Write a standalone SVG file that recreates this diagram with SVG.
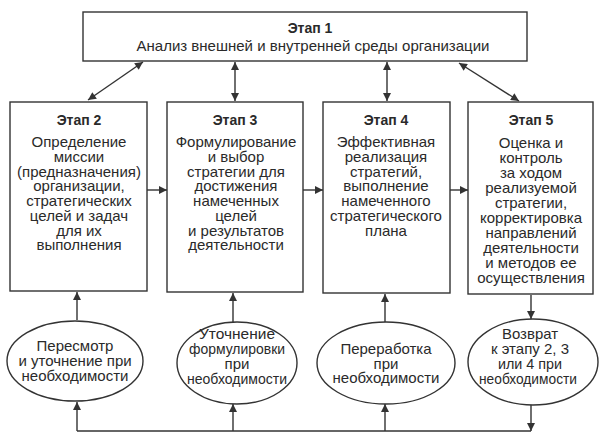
<svg xmlns="http://www.w3.org/2000/svg" width="605" height="439" viewBox="0 0 605 439">
<style>
.box{fill:#fff;stroke:#333;stroke-width:1.4}
.t{font-family:"Liberation Sans",Arial,sans-serif;font-size:15px;fill:#2a2a2a;text-anchor:middle}
.h{font-family:"Liberation Sans",Arial,sans-serif;font-size:14px;font-weight:bold;fill:#2a2a2a;text-anchor:middle}
.e{font-family:"Liberation Sans",Arial,sans-serif;font-size:15px;fill:#2a2a2a;text-anchor:middle}
.c{stroke:#333;stroke-width:1.4;fill:none}
</style>
<defs>
<marker id="ah" viewBox="0 0 10 10" refX="10" refY="5" markerWidth="9" markerHeight="8" markerUnits="userSpaceOnUse" orient="auto-start-reverse">
<path d="M0,0 L10,5 L0,10 z" fill="#333"/>
</marker>
</defs>
<rect width="605" height="439" fill="#fff"/>

<g id="connectors">
<line class="c" x1="143" y1="62" x2="88" y2="100" marker-start="url(#ah)" marker-end="url(#ah)"/>
<line class="c" x1="235" y1="62" x2="235" y2="101" marker-start="url(#ah)" marker-end="url(#ah)"/>
<line class="c" x1="387" y1="62" x2="387" y2="101" marker-start="url(#ah)" marker-end="url(#ah)"/>
<line class="c" x1="459" y1="63" x2="519" y2="101" marker-start="url(#ah)" marker-end="url(#ah)"/>
<line class="c" x1="147" y1="190" x2="167" y2="190" marker-end="url(#ah)"/>
<line class="c" x1="303" y1="190" x2="323" y2="190" marker-end="url(#ah)"/>
<line class="c" x1="450" y1="190" x2="468" y2="190" marker-end="url(#ah)"/>
<line class="c" x1="77" y1="320" x2="77" y2="292" marker-end="url(#ah)"/>
<line class="c" x1="233" y1="322" x2="233" y2="293" marker-end="url(#ah)"/>
<line class="c" x1="385" y1="322" x2="385" y2="294" marker-end="url(#ah)"/>
<line class="c" x1="531" y1="295" x2="531" y2="319" marker-end="url(#ah)"/>
<line class="c" x1="531" y1="405" x2="531" y2="431" marker-end="url(#ah)"/>
<polyline class="c" points="531,431 77,431"/>
<line class="c" x1="77" y1="431" x2="77" y2="402" marker-end="url(#ah)"/>
<line class="c" x1="233" y1="431" x2="233" y2="404" marker-end="url(#ah)"/>
<line class="c" x1="385" y1="431" x2="385" y2="404" marker-end="url(#ah)"/>
</g>

<g id="stage1">
<rect class="box" x="83" y="12" width="444" height="49"/>
<text class="h" x="310" y="33">Этап 1</text>
<text class="t" x="313" y="51">Анализ внешней и внутренней среды организации</text>
</g>

<g id="stage2">
<rect class="box" x="10" y="102" width="137" height="189"/>
<text class="h" x="79" y="125">Этап 2</text>
<text class="t" x="79" y="147">Определение</text>
<text class="t" x="79" y="162">миссии</text>
<text class="t" x="79" y="177">(предназначения)</text>
<text class="t" x="79" y="191">организации,</text>
<text class="t" x="79" y="206">стратегических</text>
<text class="t" x="79" y="221">целей и задач</text>
<text class="t" x="79" y="236">для их</text>
<text class="t" x="79" y="250">выполнения</text>
</g>

<g id="stage3">
<rect class="box" x="167" y="102" width="136" height="190"/>
<text class="h" x="235" y="125">Этап 3</text>
<text class="t" x="236" y="147">Формулирование</text>
<text class="t" x="236" y="162">и выбор</text>
<text class="t" x="236" y="177">стратегии для</text>
<text class="t" x="236" y="191">достижения</text>
<text class="t" x="236" y="206">намеченных</text>
<text class="t" x="236" y="221">целей</text>
<text class="t" x="236" y="236">и результатов</text>
<text class="t" x="236" y="250">деятельности</text>
</g>

<g id="stage4">
<rect class="box" x="323" y="102" width="127" height="191"/>
<text class="h" x="386" y="125">Этап 4</text>
<text class="t" x="386" y="147">Эффективная</text>
<text class="t" x="386" y="162">реализация</text>
<text class="t" x="386" y="177">стратегий,</text>
<text class="t" x="386" y="191">выполнение</text>
<text class="t" x="386" y="206">намеченного</text>
<text class="t" x="386" y="221">стратегического</text>
<text class="t" x="386" y="236">плана</text>
</g>

<g id="stage5">
<rect class="box" x="468" y="102" width="125" height="192"/>
<text class="h" x="531" y="125">Этап 5</text>
<text class="t" x="531" y="148">Оценка и</text>
<text class="t" x="531" y="163">контроль</text>
<text class="t" x="531" y="178">за ходом</text>
<text class="t" x="531" y="193">реализуемой</text>
<text class="t" x="531" y="208">стратегии,</text>
<text class="t" x="531" y="223">корректировка</text>
<text class="t" x="531" y="238">направлений</text>
<text class="t" x="531" y="253">деятельности</text>
<text class="t" x="531" y="268">и методов ее</text>
<text class="t" x="531" y="283">осуществления</text>
</g>

<g id="review2">
<ellipse class="box" cx="75" cy="361" rx="68" ry="40"/>
<text class="e" x="75" y="351">Пересмотр</text>
<text class="e" x="75" y="366">и уточнение при</text>
<text class="e" x="75" y="381">необходимости</text>
</g>

<g id="review3">
<ellipse class="box" cx="237" cy="363" rx="60" ry="41"/>
<text class="e" x="237" y="339" textLength="76" lengthAdjust="spacingAndGlyphs">Уточнение</text>
<text class="e" x="237" y="354" textLength="96" lengthAdjust="spacingAndGlyphs">формулировки</text>
<text class="e" x="237" y="369">при</text>
<text class="e" x="237" y="384" textLength="100" lengthAdjust="spacingAndGlyphs">необходимости</text>
</g>

<g id="review4">
<ellipse class="box" cx="386" cy="363" rx="69" ry="41"/>
<text class="e" x="386" y="354">Переработка</text>
<text class="e" x="386" y="369">при</text>
<text class="e" x="386" y="383">необходимости</text>
</g>

<g id="review5">
<ellipse class="box" cx="533" cy="362" rx="65" ry="43"/>
<text class="e" x="530" y="339" textLength="56" lengthAdjust="spacingAndGlyphs">Возврат</text>
<text class="e" x="530" y="354" textLength="78" lengthAdjust="spacingAndGlyphs">к этапу 2, 3</text>
<text class="e" x="530" y="369" textLength="64" lengthAdjust="spacingAndGlyphs">или 4 при</text>
<text class="e" x="528" y="384" textLength="98" lengthAdjust="spacingAndGlyphs">необходимости</text>
</g>
</svg>
